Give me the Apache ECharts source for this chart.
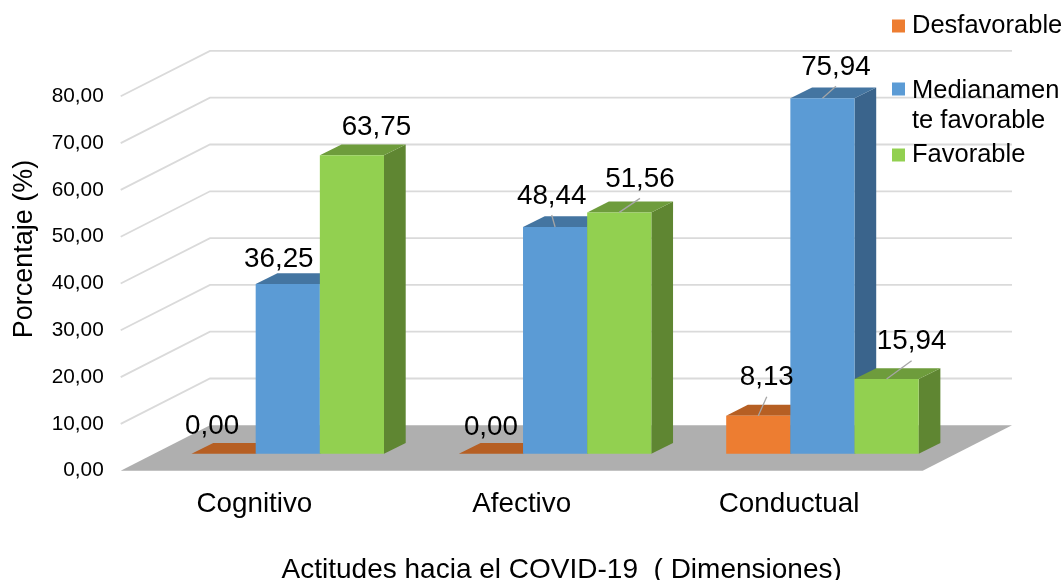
<!DOCTYPE html>
<html>
<head>
<meta charset="utf-8">
<style>html,body{margin:0;padding:0;background:#fff}#chart{width:1063px;height:580px}</style>
<script src="https://cdn.jsdelivr.net/npm/echarts@6/dist/echarts.min.js"></script>
</head>
<body>
<div id="chart"></div>
<script>
// Values
const categories = ['Cognitivo', 'Afectivo', 'Conductual'];
const desfavorable = [0.00, 0.00, 8.13];
const medianamente = [36.25, 48.44, 75.94];
const favorable = [63.75, 51.56, 15.94];
const yMax = 80;
const yStep = 10;
const gridValues = [0, 10, 20, 30, 40, 50, 60, 70, 80];

// Label placement: offset of each value label from the bar's top centre, per series then category
const labelDx = [[-11.5, 0, 8.5], [-9, -3.4, 13.5], [24.5, 20.7, 25]];
const labelDy = [[-27.7, -26, -38], [-25, -31, -31], [-28, -33, -37.4]];
const labelLeaders = [[false, false, true], [false, true, true], [false, true, true]];

// Oblique projection of the box
const WALL_DX = 89.3, WALL_DY = -45.4;   // front plane to back wall
const BAR_DX = 33.4, BAR_DY = -17;       // front plane to bar front face
const SIDE_DX = 21.7, SIDE_DY = -10.8;   // depth of each bar
const BAR_SHARE = 0.24;                  // bar width as a share of the category band

const FONT = '"Liberation Sans", Arial, sans-serif';
const palette = [
  { front: '#ED7D31', top: '#B65F23', side: '#A85820' },
  { front: '#5B9BD5', top: '#4475A1', side: '#3A648C' },
  { front: '#92D050', top: '#6E9C3C', side: '#5F8632' }
];
const fmt = v => v.toFixed(2).replace('.', ',');

function renderBar(s) {
  return function (params, api) {
    const cat = api.value(0), val = api.value(1);
    const band = api.size([1, 0])[0];
    const w = band * BAR_SHARE;
    const cx = api.coord([cat, 0])[0] + BAR_DX + (s - 1) * w;
    const x0 = cx - w / 2, x1 = cx + w / 2;
    const y0 = api.coord([cat, 0])[1] + BAR_DY;
    const y1 = api.coord([cat, val])[1] + BAR_DY;
    const c = palette[s];
    const poly = (points, fill) => ({ type: 'polygon', shape: { points }, style: { fill } });
    return {
      type: 'group',
      children: [
        poly([[x1, y0], [x1 + SIDE_DX, y0 + SIDE_DY], [x1 + SIDE_DX, y1 + SIDE_DY], [x1, y1]], c.side),
        poly([[x0, y1], [x1, y1], [x1 + SIDE_DX, y1 + SIDE_DY], [x0 + SIDE_DX, y1 + SIDE_DY]], c.top),
        poly([[x0, y0], [x1, y0], [x1, y1], [x0, y1]], c.front)
      ]
    };
  };
}

function renderWall(params, api) {
  const cs = params.coordSys;
  const p = api.coord([0, api.value(1)]);
  const y = p[1];
  return {
    type: 'polyline',
    shape: { points: [[cs.x, y], [cs.x + WALL_DX, y + WALL_DY], [cs.x + cs.width + WALL_DX, y + WALL_DY]] },
    style: { stroke: '#DADADA', lineWidth: 1.8, fill: null }
  };
}

function renderFloor(params, api) {
  const cs = params.coordSys;
  const y = api.coord([0, 0])[1];
  const l = cs.x, r = cs.x + cs.width;
  return {
    type: 'polygon',
    shape: { points: [[l, y], [l + WALL_DX, y + WALL_DY], [r + WALL_DX, y + WALL_DY], [r, y]] },
    style: { fill: '#AFAFAF' }
  };
}

function renderLabel(params, api) {
  const cat = api.value(0), val = api.value(1), s = api.value(2);
  const band = api.size([1, 0])[0];
  const w = band * BAR_SHARE;
  const bx = api.coord([cat, 0])[0] + BAR_DX + (s - 1) * w;
  const by = api.coord([cat, val])[1] + BAR_DY;
  const lx = bx + labelDx[s][cat], ly = by + labelDy[s][cat];
  const children = [];
  if (labelLeaders[s][cat]) {
    children.push({
      type: 'line',
      shape: { x1: bx, y1: by, x2: lx, y2: ly + 19 },
      style: { stroke: '#A6A6A6', lineWidth: 1.3 }
    });
  }
  children.push({
    type: 'text',
    style: { x: lx, y: ly, text: fmt(val), fill: '#000', font: '27.8px ' + FONT, textAlign: 'center', textVerticalAlign: 'middle' }
  });
  return { type: 'group', children };
}

const seriesNames = ['Desfavorable', 'Medianamente favorable', 'Favorable'];
const seriesData = [desfavorable, medianamente, favorable];

const barSeries = seriesNames.map((name, s) => ({
  name,
  type: 'custom',
  z: 3,
  renderItem: renderBar(s),
  encode: { x: 0, y: 1 },
  itemStyle: { color: palette[s].front },
  data: seriesData[s].map((v, i) => [i, v])
}));

const labelRows = [];
seriesData.forEach((vals, s) => vals.forEach((v, i) => labelRows.push([i, v, s])));

const legendBase = {
  orient: 'vertical',
  left: 887,
  itemWidth: 13,
  itemHeight: 13,
  itemGap: 0,
  icon: 'rect',
  textStyle: { fontFamily: FONT, fontSize: 25.5, color: '#000', padding: [0, 0, 0, 2] },
  selectedMode: false
};

const chart = echarts.init(document.getElementById('chart'), null, { renderer: 'canvas' });
chart.setOption({
  animation: false,
  backgroundColor: '#fff',
  grid: { left: 120.7, right: 140.3, top: 96.3, bottom: 109.3, outerBoundsMode: 'none' },
  legend: [
    Object.assign({}, legendBase, { top: 8, data: ['Desfavorable'] }),
    Object.assign({}, legendBase, {
      top: 71,
      itemHeight: 57,
      data: [{ name: 'Medianamente favorable', icon: 'path://M0 0L0 0 M0 5H13V18H0Z M13 57L13 57Z' }],
      formatter: () => 'Medianamen\nte favorable',
      textStyle: Object.assign({}, legendBase.textStyle, { lineHeight: 30 })
    }),
    Object.assign({}, legendBase, { top: 137, data: ['Favorable'] })
  ],
  xAxis: {
    type: 'category',
    data: categories,
    axisLine: { show: false },
    axisTick: { show: false },
    axisLabel: { fontFamily: FONT, fontSize: 27.8, color: '#000', margin: 20 },
    name: 'Actitudes hacia el COVID-19  ( Dimensiones)',
    nameLocation: 'middle',
    nameGap: 86,
    nameTextStyle: { fontFamily: FONT, fontSize: 28, color: '#000', padding: [0, 0, 0, 80] }
  },
  yAxis: {
    type: 'value',
    min: 0,
    max: yMax,
    interval: yStep,
    axisLine: { show: false },
    axisTick: { show: false },
    splitLine: { show: false },
    axisLabel: { fontFamily: FONT, fontSize: 20.8, color: '#000', margin: 17, formatter: v => fmt(v) },
    name: 'Porcentaje (%)',
    nameLocation: 'middle',
    nameGap: 83,
    nameTextStyle: { fontFamily: FONT, fontSize: 27, color: '#000', padding: [0, 0, 0, 69] }
  },
  series: [
    { type: 'custom', z: 1, renderItem: renderWall, encode: { x: 0, y: 1 }, data: gridValues.filter(v => v > 0).map(v => [0, v]) },
    { type: 'custom', z: 2, renderItem: renderFloor, encode: { x: 0, y: 1 }, data: [[0, 0]] },
    ...barSeries,
    { type: 'custom', z: 5, renderItem: renderLabel, encode: { x: 0, y: 1 }, data: labelRows }
  ]
});
</script>
</body>
</html>
